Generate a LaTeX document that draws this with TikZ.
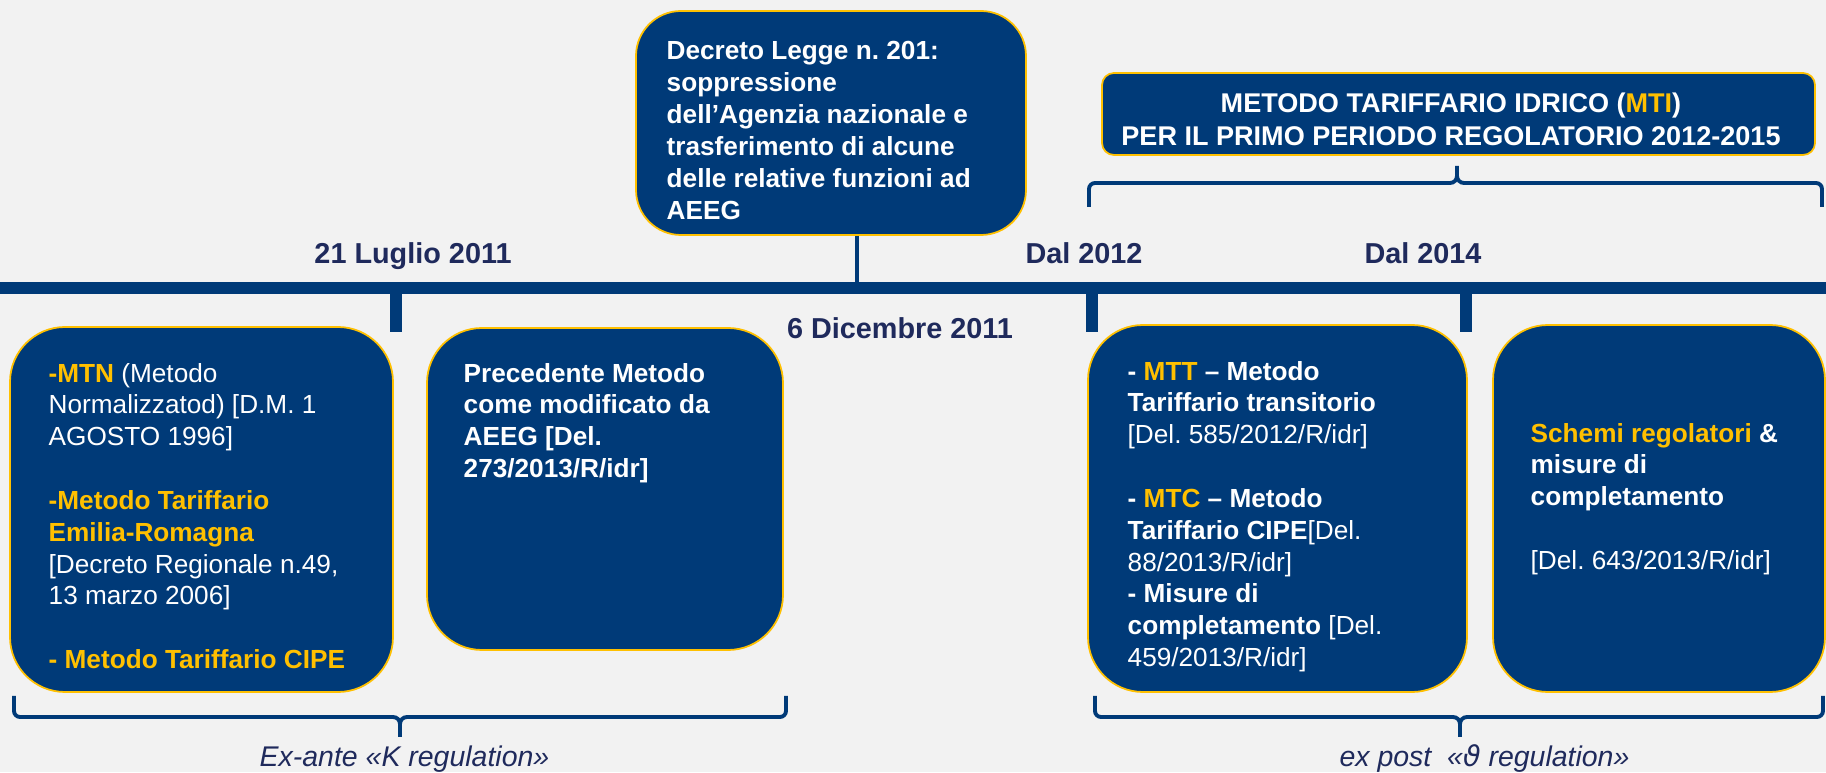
\documentclass[tikz,border=0pt]{standalone}
\usepackage{fontspec}
\setmainfont{Liberation Sans}
\newfontfamily\dejavu{DejaVu Sans}
\usepackage{xcolor}
\usepackage{tikz}
\usetikzlibrary{calc}

\definecolor{navy}{RGB}{0,58,120}
\definecolor{gold}{RGB}{255,192,0}
\definecolor{datecol}{RGB}{31,42,92}
\definecolor{bgcol}{RGB}{242,242,242}

\newcommand{\hlgold}[1]{\textcolor{gold}{#1}}
\frenchspacing

\begin{document}
\begin{tikzpicture}[x=1cm, y=1cm, inner sep=0pt,
	tlbox/.style={draw=gold, line width=0.5pt, fill=navy, rounded corners=0.55cm},
	boxtext/.style={anchor=north west, align=left, text=white, font=\fontsize{7.45}{9.05}\selectfont},
	datelabel/.style={anchor=base, text=datecol, font=\fontsize{8.2}{9.8}\selectfont\bfseries},
	eralabel/.style={anchor=base, text=datecol, font=\fontsize{8.1}{9.7}\selectfont\itshape},
	brace/.style={navy, line width=1.1pt}]
	
	\fill[bgcol] (0,0) rectangle (18.26,-7.72);
	
	% Zeitleiste
	\fill[navy] (0,-2.82) rectangle (18.26,-2.94);
	\foreach \x in {3.955, 10.915, 14.66}
		\fill[navy] (\x-0.06,-2.94) rectangle (\x+0.06,-3.32);
	\coordinate (dlbar) at (8.57,-2.82);
	
	% Kaesten
	\node[tlbox, minimum width=3.83cm, minimum height=3.65cm](mtn) at (2.015,-5.095) {};
	\node[tlbox, minimum width=3.56cm, minimum height=3.22cm](prec) at (6.05,-4.89) {};
	\node[tlbox, rounded corners=0.45cm, minimum width=3.90cm, minimum height=2.24cm](decreto) at (8.31,-1.23) {};
	\node[tlbox, minimum width=3.79cm, minimum height=3.67cm](mtt) at (12.775,-5.085) {};
	\node[tlbox, minimum width=3.32cm, minimum height=3.67cm](schemi) at (16.59,-5.085) {};
	\node[tlbox, rounded corners=0.12cm, minimum width=7.13cm, minimum height=0.82cm](mti) at (14.585,-1.14) {};
	
	\draw[navy, line width=1.1pt] (decreto.south -| dlbar) -- (dlbar);
	
	% Texte
	\node[boxtext](mtntext) at (0.48,-3.625) {\textbf{\hlgold{-MTN}} (Metodo\\ Normalizzatod) {[}D.M. 1\\ AGOSTO 1996]\\ \mbox{}\\ \textbf{\hlgold{-Metodo Tariffario}}\\ \textbf{\hlgold{Emilia-Romagna}}\\ {[}Decreto Regionale n.49,\\ 13 marzo 2006]\\ \mbox{}\\ \textbf{\hlgold{- Metodo Tariffario CIPE}}};
	\node[boxtext, font=\fontsize{7.45}{9.05}\selectfont\bfseries](prectext) at (4.63,-3.625) {Precedente Metodo\\ come modificato da\\ AEEG {[}Del.\\ 273/2013/R/idr]};
	\node[boxtext, font=\fontsize{7.45}{9.05}\selectfont\bfseries](decretotext) at (6.66,-0.41) {Decreto Legge n. 201:\\ soppressione\\ dell’Agenzia nazionale e\\ trasferimento di alcune\\ delle relative funzioni ad\\ AEEG};
	\node[boxtext](mtttext) at (11.27,-3.605) {\textbf{- \hlgold{MTT} – Metodo}\\ \textbf{Tariffario transitorio}\\ {[}Del. 585/2012/R/idr]\\ \mbox{}\\ \textbf{- \hlgold{MTC} – Metodo}\\ \textbf{Tariffario CIPE}[Del.\\ 88/2013/R/idr]\\ \textbf{- Misure di}\\ \textbf{completamento} [Del.\\ 459/2013/R/idr]};
	\node[boxtext](schemitext) at (15.30,-4.225) {\textbf{\hlgold{Schemi regolatori} \&}\\ \textbf{misure di}\\ \textbf{completamento}\\ \mbox{}\\ {[}Del. 643/2013/R/idr]};
	\node[align=center, text=white, font=\fontsize{7.7}{9.4}\selectfont\bfseries](mtitext) at (14.51,-1.195) {METODO TARIFFARIO IDRICO (\hlgold{MTI})\\ PER IL PRIMO PERIODO REGOLATORIO 2012-2015};
	
	% Daten
	\node[datelabel](luglio) at (4.13,-2.633) {21 Luglio 2011};
	\node[datelabel](dal12) at (10.84,-2.633) {Dal 2012};
	\node[datelabel](dal14) at (14.23,-2.633) {Dal 2014};
	\node[datelabel](dicembre) at (9.00,-3.383) {6 Dicembre 2011};
	
	% Klammern
	\foreach \xa/\xm/\xb in {0.14/4.00/7.86, 10.95/14.60/18.23} {
		\draw[brace] (\xa,-6.96) -- (\xa,-7.11) to[out=-90,in=180] (\xa+0.06,-7.17) -- (\xm-0.07,-7.17) to[out=0,in=90] (\xm,-7.24) -- (\xm,-7.37);
		\draw[brace] (\xm,-7.24) to[out=90,in=180] (\xm+0.07,-7.17) -- (\xb-0.06,-7.17) to[out=0,in=-90] (\xb,-7.11) -- (\xb,-6.96);
	}
	\draw[brace] (10.89,-2.07) -- (10.89,-1.89) to[out=90,in=180] (10.95,-1.83) -- (14.50,-1.83) to[out=0,in=-90] (14.57,-1.76) -- (14.57,-1.66);
	\draw[brace] (14.57,-1.76) to[out=-90,in=180] (14.64,-1.83) -- (18.16,-1.83) to[out=0,in=90] (18.22,-1.89) -- (18.22,-2.07);
	
	\node[eralabel](exante) at (4.045,-7.67) {Ex-ante «K regulation»};
	\node[eralabel](expost) at (14.845,-7.67) {ex post~~«{\dejavu\itshape ϑ} regulation»};
\end{tikzpicture}
\end{document}
